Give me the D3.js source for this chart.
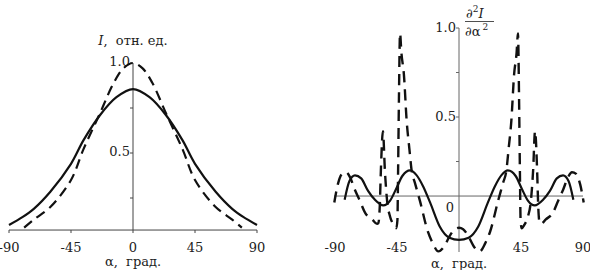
<!DOCTYPE html>
<html>
<head>
<meta charset="utf-8">
<script src="https://cdn.jsdelivr.net/npm/d3@7"></script>
<style>
  body { margin: 0; background: #fff; }
  svg { display: block; }
  text { font-family: "DejaVu Serif", serif; font-size: 13px; fill: #222; white-space: pre; }
</style>
</head>
<body>
<svg id="chart" width="590" height="270"></svg>
<script>
// angle ticks, both panels
const xTicks = [-90, -45, 0, 45, 90];
const xTickLabels = ["-90", "-45", "0", "45", "90"];
const yTicks = [1.0, 0.75, 0.5, 0.25];
const yTickLabels = ["1.0", "", "0.5", ""];

// left panel: I, rel. units
const leftSolidAlpha = [-90, -80, -72, -60, -45, -36, -24, -12, 0, 12, 24, 36, 45, 60, 72, 80, 90];
const leftSolidI = [0.10, 0.145, 0.19, 0.285, 0.44, 0.57, 0.71, 0.81, 0.855, 0.81, 0.71, 0.57, 0.44, 0.285, 0.19, 0.145, 0.10];
const leftDashAlpha = [-79, -72, -60, -45, -36, -24, -14, -7, 0, 7, 14, 24, 36, 45, 60, 72, 79];
const leftDashI = [0.085, 0.13, 0.2, 0.35, 0.52, 0.72, 0.89, 0.97, 1.0, 0.97, 0.89, 0.72, 0.52, 0.35, 0.2, 0.13, 0.085];

// right panel: second derivative
const rightSolidAlpha = [-83, -79.5, -75.5, -71, -66, -61, -55, -50, -46, -41, -35.5, -31, -26, -21, -14, -7, 0,
                         7, 14, 21, 26, 31, 35.5, 41, 46, 50, 55, 61, 66, 71, 75.5, 79.5, 83];
const rightSolidD = [0.035, 0.14, 0.172, 0.155, 0.085, 0.035, 0.003, 0.03, 0.09, 0.17, 0.2, 0.175, 0.11, 0.02, -0.115, -0.178, -0.19,
                     -0.178, -0.115, 0.02, 0.11, 0.175, 0.2, 0.17, 0.09, 0.03, 0.003, 0.035, 0.085, 0.155, 0.172, 0.14, 0.035];
const rightDashAlpha = [-90.5, -88, -85, -82, -79, -75.5, -72, -68, -63, -59.5, -58.5, -57.5, -56.7, -55.2, -53.8, -52.2, -50, -47.5, -45.5,
                        -44.7, -44.2, -43.6, -42.8, -41.8, -40, -38, -36, -34.4, -32, -28.4, -22.5, -19, -15, -11, -6.5, -3, 0,
                        3, 6.5, 11, 15, 19, 22.5, 28.4, 32, 34.4, 36, 38, 40, 41.8, 42.8, 43.6, 44.2, 44.7,
                        45.5, 47.5, 50, 52.2, 53.8, 55.2, 56.7, 57.5, 58.5, 59.5, 63, 68, 72, 75.5, 79, 82, 85, 88, 90.5];
const rightDashD = [0.02, 0.12, 0.18, 0.19, 0.16, 0.09, 0.03, -0.04, -0.075, -0.1, -0.095, 0.0, 0.2, 0.42, 0.2, 0.03, -0.06, -0.105, -0.125,
                    -0.08, 0.2, 0.6, 0.97, 0.86, 0.74, 0.48, 0.32, 0.2, 0.13, 0.03, -0.146, -0.21, -0.255, -0.23, -0.165, -0.13, -0.122,
                    -0.13, -0.165, -0.23, -0.255, -0.21, -0.146, 0.03, 0.13, 0.2, 0.32, 0.48, 0.74, 0.86, 0.97, 0.6, 0.2, -0.08,
                    -0.125, -0.105, -0.06, 0.03, 0.2, 0.42, 0.2, 0.0, -0.095, -0.1, -0.075, -0.04, 0.03, 0.09, 0.16, 0.19, 0.18, 0.12, 0.02];

const vis = {

    svg : d3.select("#chart"),

    left : {

        x : d3.scaleLinear().domain([-90, 90]).range([9, 257]),
        y : d3.scaleLinear().domain([0, 1]).range([243, 63]),
        axisAt : 0.072,

        draw_axes : function() {

            const g = vis.svg.append("g");
            const x = this.x, y = this.y;
            const y0 = y(this.axisAt);

            g.append("line")
              .attr("x1", x(-90)).attr("x2", x(90))
              .attr("y1", y0).attr("y2", y0)
              .attr("stroke", "#444").attr("stroke-width", 1);

            g.append("line")
              .attr("x1", x(0)).attr("x2", x(0))
              .attr("y1", y(1)).attr("y2", y0)
              .attr("stroke", "#444").attr("stroke-width", 1);

            g.selectAll(".xt").data(xTicks).enter().append("line")
              .attr("x1", d => x(d)).attr("x2", d => x(d))
              .attr("y1", y0).attr("y2", y0 + 3)
              .attr("stroke", "#444");

            g.selectAll(".xl").data(xTicks).enter().append("text")
              .attr("x", d => x(d)).attr("y", 252)
              .attr("text-anchor", "middle")
              .text((d, i) => xTickLabels[i]);

            g.selectAll(".yt").data(yTicks).enter().append("line")
              .attr("x1", x(0) - 3).attr("x2", x(0))
              .attr("y1", d => y(d)).attr("y2", d => y(d))
              .attr("stroke", "#444");

            g.selectAll(".yl").data(yTicks).enter().append("text")
              .attr("x", x(0) - 3).attr("y", d => y(d) + 3)
              .attr("text-anchor", "end")
              .text((d, i) => yTickLabels[i]);

            g.append("text")
              .attr("x", x(0)).attr("y", 266)
              .attr("text-anchor", "middle")
              .text("α,  град.");

            const t = g.append("text")
              .attr("x", x(0)).attr("y", 45)
              .attr("text-anchor", "middle");
            t.append("tspan").attr("font-style", "italic").text("I");
            t.append("tspan").text(",  отн. ед.");

        },

        draw_lines : function() {

            const x = this.x, y = this.y;

            const line = (al, vals) => d3.line()
              .x(i => x(al[i]))
              .y(i => y(vals[i]))
              .curve(d3.curveCatmullRom)(d3.range(al.length));

            vis.svg.append("path")
              .attr("d", line(leftSolidAlpha, leftSolidI))
              .attr("fill", "none").attr("stroke", "#111").attr("stroke-width", 2.2);

            vis.svg.append("path")
              .attr("d", line(leftDashAlpha, leftDashI))
              .attr("fill", "none").attr("stroke", "#111").attr("stroke-width", 2.2)
              .attr("stroke-dasharray", "10,6");

        }

    },

    right : {

        x : d3.scaleLinear().domain([-90, 90]).range([335, 583]),
        y : d3.scaleLinear().domain([0, 1]).range([206, 28]),
        axisAt : 0.056,

        draw_axes : function() {

            const g = vis.svg.append("g");
            const x = this.x, y = this.y;
            const y0 = y(this.axisAt);

            g.append("line")
              .attr("x1", x(-90.7)).attr("x2", x(90))
              .attr("y1", y0).attr("y2", y0)
              .attr("stroke", "#666").attr("stroke-width", 1);

            g.append("line")
              .attr("x1", x(0)).attr("x2", x(0))
              .attr("y1", y(1)).attr("y2", 252)
              .attr("stroke", "#666").attr("stroke-width", 1);

            g.selectAll(".yt").data(yTicks).enter().append("line")
              .attr("x1", x(0) - 3).attr("x2", x(0))
              .attr("y1", d => y(d)).attr("y2", d => y(d))
              .attr("stroke", "#666");

            g.selectAll(".yl").data(yTicks).enter().append("text")
              .attr("x", x(0) - 3).attr("y", d => y(d) + 4)
              .attr("text-anchor", "end")
              .text((d, i) => yTickLabels[i]);

            g.append("text")
              .attr("x", x(0) - 9).attr("y", y(0) + 6)
              .attr("text-anchor", "middle")
              .text("0");

            g.selectAll(".xl").data(xTicks.filter(d => d !== 0)).enter().append("text")
              .attr("x", d => x(d)).attr("y", 252)
              .attr("text-anchor", "middle")
              .text(d => xTickLabels[xTicks.indexOf(d)]);

            g.append("text")
              .attr("x", x(0)).attr("y", 268)
              .attr("text-anchor", "middle")
              .text("α,  град.");

            // d2I / dα2
            const num = g.append("text").attr("x", 466).attr("y", 18);
            num.append("tspan").text("∂");
            num.append("tspan").attr("font-size", "9px").attr("dy", -6).text("2");
            num.append("tspan").attr("font-style", "italic").attr("dy", 6).text("I");

            g.append("line")
              .attr("x1", 465).attr("x2", 494)
              .attr("y1", 21.5).attr("y2", 21.5)
              .attr("stroke", "#222").attr("stroke-width", 0.8);

            const den = g.append("text").attr("x", 465).attr("y", 36);
            den.append("tspan").text("∂α");
            den.append("tspan").attr("font-size", "9px").attr("dx", 2).attr("dy", -6).text("2");

        },

        draw_lines : function() {

            const x = this.x, y = this.y;

            const line = (al, vals) => d3.line()
              .x(i => x(al[i]))
              .y(i => y(vals[i]))
              .curve(d3.curveMonotoneX)(d3.range(al.length));

            vis.svg.append("path")
              .attr("d", line(rightSolidAlpha, rightSolidD))
              .attr("fill", "none").attr("stroke", "#111").attr("stroke-width", 2.2);

            vis.svg.append("path")
              .attr("d", line(rightDashAlpha, rightDashD))
              .attr("fill", "none").attr("stroke", "#111").attr("stroke-width", 2.4)
              .attr("stroke-dasharray", "11,7");

        }

    },

    ctrl : {

        init : function() {
            vis.left.draw_axes();
            vis.left.draw_lines();
            vis.right.draw_axes();
            vis.right.draw_lines();
        }

    }

}

vis.ctrl.init();
</script>
</body>
</html>
